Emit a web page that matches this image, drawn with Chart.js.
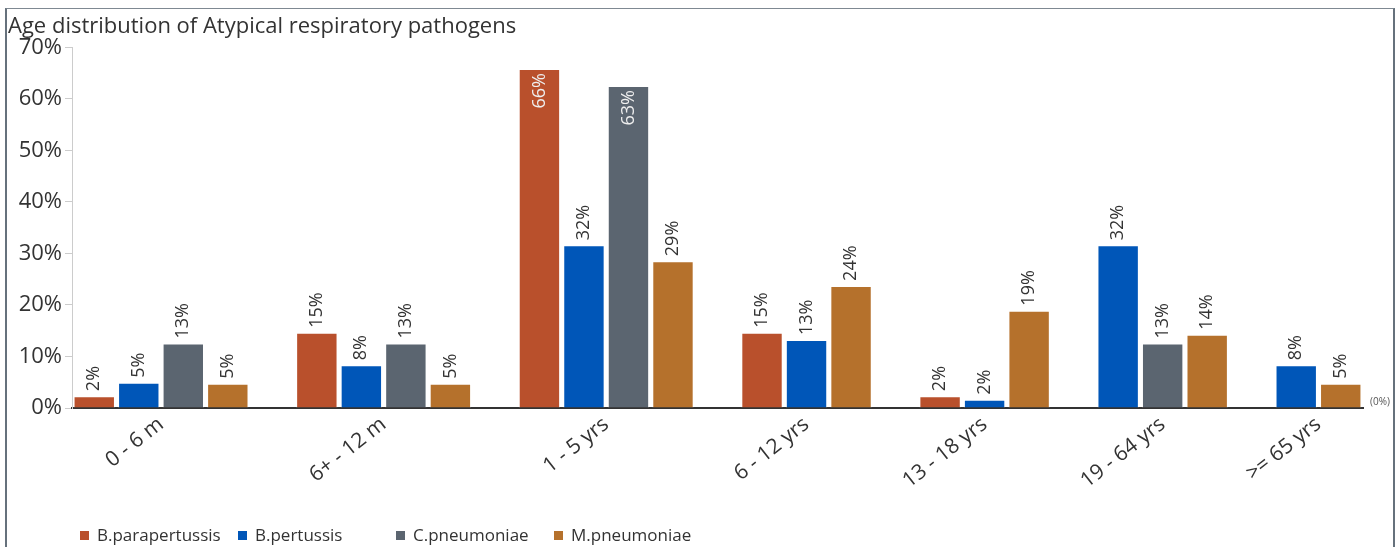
<!DOCTYPE html>
<html>
<head>
<meta charset="utf-8">
<script src="https://cdn.jsdelivr.net/npm/chart.js@4/dist/chart.umd.min.js"></script>
<style>
html,body{margin:0;padding:0;background:#fff;width:1397px;height:547px;overflow:hidden;font-family:"Open Sans",sans-serif;}
#wrap{position:relative;width:1397px;height:547px;}
#c{position:absolute;left:0;top:0;}
#frame{position:absolute;left:5px;top:8px;width:1386px;height:600px;border-left:2px solid #66717c;border-right:2px solid #66717c;border-top:1px solid #7f8992;pointer-events:none;}
#legend{position:absolute;left:80px;top:524px;display:flex;font-size:17px;line-height:22px;color:#333;}
.item{width:158px;display:flex;align-items:center;white-space:nowrap;}
.box{width:9px;height:9px;margin-right:8px;flex:none;}
</style>
</head>
<body>
<div id="wrap">
  <canvas id="c" width="1397" height="547" style="width:1397px;height:547px"></canvas>
  <div id="frame"></div>
  <div id="legend"></div>
</div>
<script>
// ---- data ----
const titleText = 'Age distribution of Atypical respiratory pathogens';
const categories = ['0 - 6 m', '6+ - 12 m', '1 - 5 yrs', '6 - 12 yrs', '13 - 18 yrs', '19 - 64 yrs', '>= 65 yrs'];
const seriesNames = ['B.parapertussis', 'B.pertussis', 'C.pneumoniae', 'M.pneumoniae'];
const paraValues = [2.3, 14.6, 65.8, 14.6, 2.3, null, null];
const pertValues = [4.9, 8.3, 31.6, 13.2, 1.6, 31.6, 8.3];
const cpnValues  = [12.5, 12.5, 62.5, null, null, 12.5, null];
const mpnValues  = [4.7, 4.7, 28.5, 23.7, 18.9, 14.2, 4.7];
const yTicks = [0, 10, 20, 30, 40, 50, 60, 70];
const seriesColors = ['#b9502c', '#0056b8', '#5b6570', '#b5712c'];

// ---- build slots: bars of each group side by side, missing series skipped, one empty slot between groups ----
const seriesValues = [paraValues, pertValues, cpnValues, mpnValues];
const slotData = seriesValues.map(() => []);
const groupCenters = [];
let slot = 0;
categories.forEach((cat, gi) => {
  const first = slot;
  seriesValues.forEach((vals, si) => {
    if (vals[gi] !== null && vals[gi] !== undefined) {
      slotData[si].push({x: slot, y: vals[gi]});
      slot++;
    }
  });
  groupCenters.push((first + slot - 1) / 2);
  slot++;
});
const lastSlot = slot - 2;

const datasets = seriesNames.map((name, si) => ({
  label: name,
  data: slotData[si],
  backgroundColor: seriesColors[si],
  borderColor: 'rgba(255,255,255,0.55)',
  borderWidth: 1,
  grouped: false,
  barPercentage: 0.93,
  categoryPercentage: 1
}));

const barLabels = {
  id: 'barLabels',
  afterDatasetsDraw(chart) {
    const ctx = chart.ctx;
    const area = chart.chartArea;
    ctx.save();
    ctx.font = '18px "Open Sans"';
    chart.data.datasets.forEach((ds, di) => {
      const meta = chart.getDatasetMeta(di);
      if (meta.hidden) return;
      meta.data.forEach((bar, i) => {
        const v = ds.data[i].y;
        const txt = Math.round(v) + '%';
        const w = ctx.measureText(txt).width;
        ctx.save();
        ctx.textBaseline = 'middle';
        const inside = bar.y - 5 - w - 5 < area.top;
        if (inside) {
          ctx.translate(bar.x, bar.y + 4);
          ctx.rotate(-Math.PI / 2);
          ctx.textAlign = 'right';
          ctx.fillStyle = '#eeeeee';
        } else {
          ctx.translate(bar.x, bar.y - 5);
          ctx.rotate(-Math.PI / 2);
          ctx.textAlign = 'left';
          ctx.fillStyle = '#333333';
        }
        ctx.fillText(txt, 0, 0);
        ctx.restore();
      });
    });
    ctx.font = '10px "Open Sans"';
    ctx.fillStyle = '#555';
    ctx.textAlign = 'left';
    ctx.textBaseline = 'middle';
    ctx.fillText('(0%)', area.right + 7, area.bottom - 6);
    ctx.restore();
  }
};

const chart = new Chart(document.getElementById('c'), {
  type: 'bar',
  data: { datasets },
  plugins: [barLabels],
  options: {
    responsive: false,
    animation: false,
    layout: { padding: { left: 8, right: 34, top: 0, bottom: 0 } },
    plugins: {
      legend: { display: false },
      tooltip: { enabled: false },
      title: {
        display: true,
        text: titleText,
        align: 'start',
        color: '#333',
        font: { family: '"Open Sans"', size: 22, weight: 'normal' },
        padding: { top: 14, bottom: 7 }
      }
    },
    scales: {
      x: {
        type: 'linear',
        bounds: 'data',
        min: -0.5,
        max: lastSlot + 0.5,
        offset: false,
        grid: { display: false },
        border: { display: true, color: '#333', width: 2 },
        afterBuildTicks: (scale) => { scale.ticks = groupCenters.map(v => ({ value: v })); },
        afterFit: (scale) => { scale.height = 139; },
        ticks: {
          autoSkip: false,
          minRotation: 38,
          maxRotation: 38,
          padding: -4,
          color: '#333',
          font: { family: '"Open Sans"', size: 21 },
          callback: (v, i) => categories[i]
        }
      },
      y: {
        type: 'linear',
        min: yTicks[0],
        max: yTicks[yTicks.length - 1],
        afterBuildTicks: (scale) => { scale.ticks = yTicks.map(v => ({ value: v })); },
        afterFit: (scale) => { scale.width = 64; },
        grid: { drawOnChartArea: false, drawTicks: true, tickLength: 7, color: '#cccccc' },
        border: { display: true, color: '#cccccc', width: 1 },
        ticks: {
          padding: 3,
          color: '#333',
          font: { family: '"Open Sans"', size: 22 },
          callback: (v) => v + '%'
        }
      }
    }
  }
});

// HTML legend built from the chart's datasets
const legendEl = document.getElementById('legend');
chart.data.datasets.forEach(ds => {
  const item = document.createElement('div');
  item.className = 'item';
  const box = document.createElement('span');
  box.className = 'box';
  box.style.background = ds.backgroundColor;
  const label = document.createElement('span');
  label.textContent = ds.label;
  item.appendChild(box);
  item.appendChild(label);
  legendEl.appendChild(item);
});
</script>
</body>
</html>
